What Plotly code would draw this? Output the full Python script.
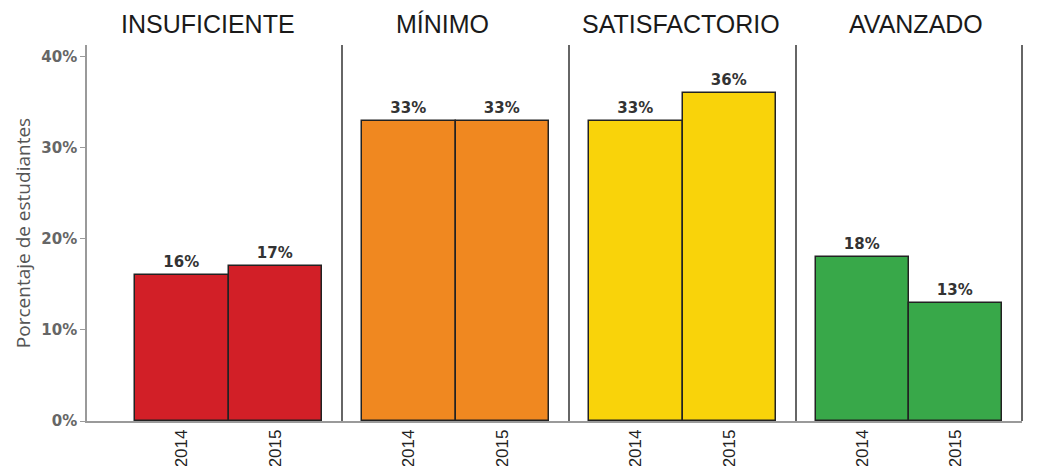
import plotly.graph_objects as go

levels = ["INSUFICIENTE", "MÍNIMO", "SATISFACTORIO", "AVANZADO"]
years = ["2014", "2015"]
values = {
    "INSUFICIENTE": [0.16, 0.17],
    "MÍNIMO": [0.33, 0.33],
    "SATISFACTORIO": [0.33, 0.36],
    "AVANZADO": [0.18, 0.13],
}
colors = ["#D21F27", "#F08820", "#F9D30A", "#38A849"]
y_ticks = [0, 0.1, 0.2, 0.3, 0.4]
y_tick_labels = ["0%", "10%", "20%", "30%", "40%"]

# page has an 8px body margin; figure sized so it fits the 1038x474 window
OFF = 8
W, H = 1038 - 2 * OFF, 474 - 2 * OFF
ML = 87 - OFF
MT = 45 - OFF
MR = W - (1022 - OFF)
MB = H - (421 - OFF)
PW = W - ML - MR
PH = H - MT - MB
edges_px = [87, 342, 569, 796, 1022]
title_px = [208, 442, 681, 916]
domains = [[(edges_px[i] - edges_px[0]) / PW, (edges_px[i + 1] - edges_px[0]) / PW] for i in range(4)]
g = 0.2139

fig = go.Figure()
for i, lev in enumerate(levels):
    ax = "" if i == 0 else str(i + 1)
    fig.add_trace(go.Bar(
        x=years, y=values[lev], xaxis="x" + ax, yaxis="y",
        marker=dict(color=colors[i], line=dict(color="#222222", width=1.5)),
        width=1.0,
        text=[f"{round(v*100)}%" for v in values[lev]],
        textposition="outside", cliponaxis=False,
        textfont=dict(family="DejaVu Sans", size=15, color="#333333", weight="bold"),
        hoverinfo="skip", showlegend=False,
    ))
    left = -0.5 - g - (0.3 if i == 0 else 0)
    fig.layout["xaxis" + ax] = dict(
        domain=[max(0, domains[i][0]), min(1, domains[i][1])], anchor="y", type="category",
        range=[left, 1.5 + g], showgrid=False, zeroline=False,
        showline=True, linecolor="#9a9a9a", linewidth=1.5,
        ticks="", tickangle=-90, automargin=False,
        tickfont=dict(family="Liberation Sans", size=17, color="#222222"),
        fixedrange=True,
    )
    fig.add_shape(type="line", xref=f"x{ax} domain", yref="y domain",
                  x0=1, x1=1, y0=0, y1=1,
                  line=dict(color="#333333", width=1.5))
    fig.add_annotation(x=(title_px[i] - edges_px[0]) / PW, y=1 + (45 - 24) / PH,
                       xref="paper", yref="paper", xanchor="center", yanchor="middle",
                       text=lev, showarrow=False,
                       font=dict(family="Liberation Sans", size=25, color="#1a1a1a"))

fig.update_layout(
    width=W, height=H,
    margin=dict(l=ML, r=MR, t=MT, b=MB, autoexpand=False),
    plot_bgcolor="white", paper_bgcolor="white",
    bargap=0,
    yaxis=dict(
        range=[0, 0.413], tickvals=y_ticks, ticktext=y_tick_labels,
        showgrid=False, zeroline=False, automargin=False,
        showline=True, linecolor="#9a9a9a", linewidth=1.5,
        ticks="outside", ticklen=5, tickcolor="#9a9a9a",
        tickfont=dict(family="DejaVu Sans", size=15, color="#666666", weight="bold"),
        title=dict(text="Porcentaje de estudiantes", standoff=6,
                   font=dict(family="Open Sans", size=19, color="#555555")),
        fixedrange=True,
    ),
)
fig.write_html("out.html")
